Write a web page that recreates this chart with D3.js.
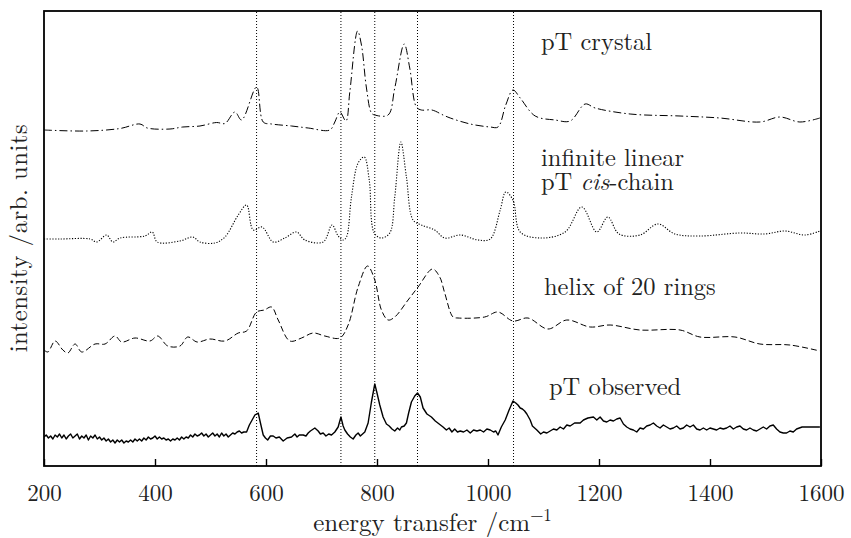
<!DOCTYPE html>
<html>
<head>
<meta charset="utf-8">
<script src="https://cdn.jsdelivr.net/npm/d3@7"></script>
<style>
  body { margin: 0; background: #fff; }
  svg text { fill: #222; }
</style>
</head>
<body>
<svg id="chart" width="851" height="538"></svg>
<script>
// Inelastic neutron scattering spectra of polythiophene (pT): three models and the measurement.
// Each series: [energy transfer (cm^-1), intensity (arb. units, relative to its own baseline)]

const crystal = [
  [200,0],[277,-1],[337,1.5],[373,6],[386,2],[427,1],[450,3],[481,4],[511,7.5],[526,6.5],
  [544,18],[556,10],[583,43],[595,8],[610,6],[646,4],[676,2],[715,0],[724,8],[733,18],
  [744,9],[751,38],[765,99],[772,85],[781,42],[790,17],[796,15],[820,15],[832,42],[849,86],
  [859,62],[871,23],[880,20],[899,20],[919,15],[932,12],[968,6],[1004,3],[1018,3],[1032,25],
  [1045,40],[1058,32],[1085,14],[1121,10],[1148,9],[1175,26],[1193,22],[1256,16],[1346,14],
  [1418,12],[1490,8],[1526,13],[1562,8],[1598,12]
];

const cisChain = [
  [200,0],[229,0],[283,0],[295,-3],[313,4],[324,-3],[337,1],[382,3],[395,7],[404,-3],
  [445,-2],[468,2],[481,-3],[508,-4],[526,2],[550,24],[565,34],[577,9],[593,12],[613,-3],
  [634,1],[655,7],[670,-1],[703,-3],[719,14],[730,3],[739,-1],[745,2],[754,42],[766,76],
  [777,82],[786,59],[795,6],[808,1],[823,6],[832,42],[843,97],[853,62],[865,19],[880,14],
  [904,9],[922,1],[950,4],[982,-1],[1004,0],[1022,29],[1032,47],[1045,39],[1058,7],[1094,1],
  [1139,7],[1169,32],[1196,7],[1216,22],[1236,5],[1274,4],[1306,15],[1337,5],[1382,3],
  [1454,6],[1499,5],[1535,8],[1571,4],[1598,8]
];

const helix = [
  [200,1],[207,-1],[220,10],[234,1],[243,-2],[256,7],[268,-1],[292,7],[310,7],[328,15],
  [340,9],[364,13],[391,10],[405,15],[423,5],[445,5],[459,14],[476,9],[499,12],[526,10],
  [550,18],[565,20],[583,39],[597,41],[610,44],[622,31],[643,10],[664,13],[685,18],[706,15],
  [733,13],[748,26],[766,64],[783,85],[796,71],[808,41],[820,31],[832,34],[856,51],[874,64],
  [900,82],[913,74],[922,58],[937,34],[946,33],[994,34],[1018,39],[1045,30],[1072,33],
  [1108,22],[1142,31],[1184,24],[1220,26],[1274,21],[1346,21],[1382,14],[1445,14],[1490,7],
  [1544,6],[1598,0]
];

const observed = [
  [200,0],[204,2],[208,-1],[212,1],[216,-2],[220,2],[224,0],[228,3],[232,-1],[236,2],
  [240,-2],[244,1],[248,3],[252,-1],[256,1],[260,3],[264,-2],[268,1],[272,-1],[276,2],
  [280,-3],[284,1],[288,-1],[292,2],[296,-2],[300,0],[304,-3],[308,-1],[312,-4],[316,-2],
  [320,-5],[324,-3],[328,-6],[332,-3],[336,-5],[340,-3],[344,-6],[348,-4],[352,-5],[356,-3],
  [360,-5],[364,-2],[368,-4],[372,-2],[376,-4],[380,-1],[384,-3],[388,0],[392,-2],[396,-1],
  [400,1],[404,-2],[408,0],[412,-2],[416,-1],[420,-3],[424,-2],[428,-4],[432,-2],[436,-3],
  [440,-1],[444,-3],[448,0],[452,-2],[456,0],[460,-1],[464,2],[468,0],[472,3],[476,1],
  [480,2],[484,4],[488,1],[492,3],[496,0],[500,2],[504,4],[508,1],[512,3],[516,0],
  [520,4],[524,1],[528,3],[532,0],[536,2],[540,4],[544,3],[548,5],[552,6],[556,4],
  [560,5],[565,5],[570,12],[575,17],[580,22],[586,24],[590,14],[595,2],[599,-1],[603,-3],
  [608,1],[613,1],[618,-1],[624,0],[631,-4],[638,-1],[646,0],[652,3],[656,0],[660,2],
  [667,2],[672,1],[676,4],[680,6],[688,9],[694,6],[698,3],[703,4],[708,1],[713,3],
  [718,2],[724,5],[730,10],[735,20],[739,11],[742,7],[747,3],[752,0],[757,-2],[762,2],
  [766,4],[770,1],[774,3],[778,5],[784,14],[790,35],[796,53],[800,44],[805,32],[811,20],
  [817,13],[822,11],[827,8],[832,6],[837,9],[841,7],[844,10],[849,11],[853,14],[857,24],
  [862,35],[868,41],[873,44],[878,40],[883,29],[890,23],[898,20],[905,16],[912,13],[919,10],
  [925,7],[930,9],[935,5],[940,8],[945,5],[950,6],[956,5],[962,7],[968,4],[974,7],
  [980,6],[986,7],[992,5],[998,8],[1004,7],[1010,5],[1014,6],[1018,2],[1024,10],[1031,17],
  [1038,27],[1045,36],[1050,34],[1054,32],[1058,29],[1062,28],[1066,26],[1070,23],[1076,17],[1080,11],
  [1088,7],[1095,3],[1100,5],[1106,4],[1112,6],[1118,8],[1124,7],[1130,10],[1136,8],[1142,12],
  [1148,11],[1156,14],[1166,14],[1172,17],[1180,19],[1190,20],[1196,17],[1202,20],[1208,16],[1214,15],
  [1220,17],[1226,16],[1232,18],[1238,19],[1244,13],[1250,10],[1256,8],[1262,7],[1268,5],[1274,9],
  [1280,8],[1286,11],[1292,12],[1298,14],[1304,11],[1310,9],[1316,12],[1322,10],[1328,8],[1334,9],
  [1340,11],[1346,8],[1352,9],[1358,12],[1364,10],[1370,12],[1376,8],[1382,7],[1388,9],[1394,7],
  [1400,9],[1406,8],[1412,7],[1418,9],[1424,8],[1430,9],[1436,11],[1442,8],[1448,10],[1454,11],
  [1460,8],[1466,7],[1472,9],[1478,7],[1484,6],[1490,8],[1496,10],[1502,8],[1508,11],[1514,12],
  [1520,8],[1526,5],[1532,4],[1538,4],[1544,6],[1550,5],[1556,8],[1566,10],[1576,10],[1586,10],
  [1598,10]
];

// Vertical offsets that stack the spectra (same arb. units as the intensities)
const seriesOffsets = { crystal: 336, cisChain: 227, helix: 115, observed: 29 };

// Band positions marked across all spectra
const bandPositions = [583, 735, 796, 873, 1046];

const xTicks = [200, 400, 600, 800, 1000, 1200, 1400, 1600];
const xDomain = [200, 1600];
const yDomain = [0, 455];

const FONT = '"Latin Modern Roman", "CMU Serif", "Liberation Serif", "DejaVu Serif", ' +
             '"Tinos", "Times New Roman", "Nimbus Roman", "FreeSerif", "Noto Serif", serif';

const svg = d3.select("#chart");
const W = 851, H = 538;
const margin = { top: 11, right: 30, bottom: 72, left: 44 };
const x0 = margin.left, x1 = W - margin.right;
const y0 = H - margin.bottom, y1 = margin.top;

const x = d3.scaleLinear().domain(xDomain).range([x0, x1]);
const y = d3.scaleLinear().domain(yDomain).range([y0, y1]);

svg.append("clipPath").attr("id", "plotclip")
  .append("rect").attr("x", x0).attr("y", y1).attr("width", x1 - x0).attr("height", y0 - y1);

// Band markers
svg.append("g").selectAll("line").data(bandPositions).join("line")
  .attr("x1", d => x(d)).attr("x2", d => x(d))
  .attr("y1", y0).attr("y2", y1)
  .attr("stroke", "#000").attr("stroke-width", 1)
  .attr("stroke-dasharray", "1,2");

const smooth = d3.curveCatmullRom.alpha(0.5);
const spectra = [
  { data: crystal, off: seriesOffsets.crystal, dash: "8,3,1.5,3", width: 1, curve: smooth },
  { data: cisChain, off: seriesOffsets.cisChain, dash: "1.2,1.6", width: 1.1, curve: smooth },
  { data: helix, off: seriesOffsets.helix, dash: "6,3", width: 1, curve: smooth },
  { data: observed, off: seriesOffsets.observed, dash: null, width: 1.4, curve: d3.curveLinear }
];

const g = svg.append("g").attr("clip-path", "url(#plotclip)");
spectra.forEach(s => {
  const line = d3.line()
    .x(d => x(d[0]))
    .y(d => y(s.off + d[1]))
    .curve(s.curve);
  g.append("path").datum(s.data)
    .attr("d", line)
    .attr("fill", "none")
    .attr("stroke", "#000")
    .attr("stroke-width", s.width)
    .attr("stroke-linejoin", "round")
    .attr("stroke-dasharray", s.dash);
});

// Bottom axis: inward ticks, labels below
const xAxis = d3.axisBottom(x).tickValues(xTicks).tickFormat(d3.format("d"))
  .tickSizeInner(-7).tickSizeOuter(0).tickPadding(19);
const ax = svg.append("g").attr("transform", `translate(0,${y0})`).call(xAxis)
  .attr("font-family", FONT).attr("font-size", 23);
ax.select(".domain").remove();
ax.selectAll(".tick line").attr("stroke", "#000").attr("stroke-width", 1.4);
ax.selectAll(".tick text").attr("fill", "#222");

// Frame
svg.append("rect").attr("x", x0).attr("y", y1)
  .attr("width", x1 - x0).attr("height", y0 - y1)
  .attr("fill", "none").attr("stroke", "#000").attr("stroke-width", 1.8);

// Series labels
const lab = svg.append("g").attr("font-family", FONT).attr("font-size", 24.5);
lab.append("text").attr("x", 541).attr("y", 50).text("pT crystal");
// two-line label for the cis-chain model
lab.append("text").attr("x", 541).attr("y", 166).text("infinite linear");
const line2 = lab.append("text").attr("x", 541).attr("y", 190);
line2.append("tspan").text("pT ");
line2.append("tspan").attr("font-style", "italic").text("cis");
line2.append("tspan").text("-chain");
lab.append("text").attr("x", 544).attr("y", 295).text("helix of 20 rings");
lab.append("text").attr("x", 549).attr("y", 395).text("pT observed");

// Axis titles
const xt = svg.append("text").attr("x", (x0 + x1) / 2).attr("y", 531)
  .attr("text-anchor", "middle").attr("font-family", FONT).attr("font-size", 25);
xt.append("tspan").text("energy transfer /cm");
xt.append("tspan").attr("dy", -10).attr("font-size", 17).text("\u22121");

svg.append("text")
  .attr("transform", `translate(27,238) rotate(-90)`)
  .attr("text-anchor", "middle").attr("font-family", FONT).attr("font-size", 24.5)
  .attr("letter-spacing", 0.6)
  .text("intensity /arb. units");
</script>
</body>
</html>
